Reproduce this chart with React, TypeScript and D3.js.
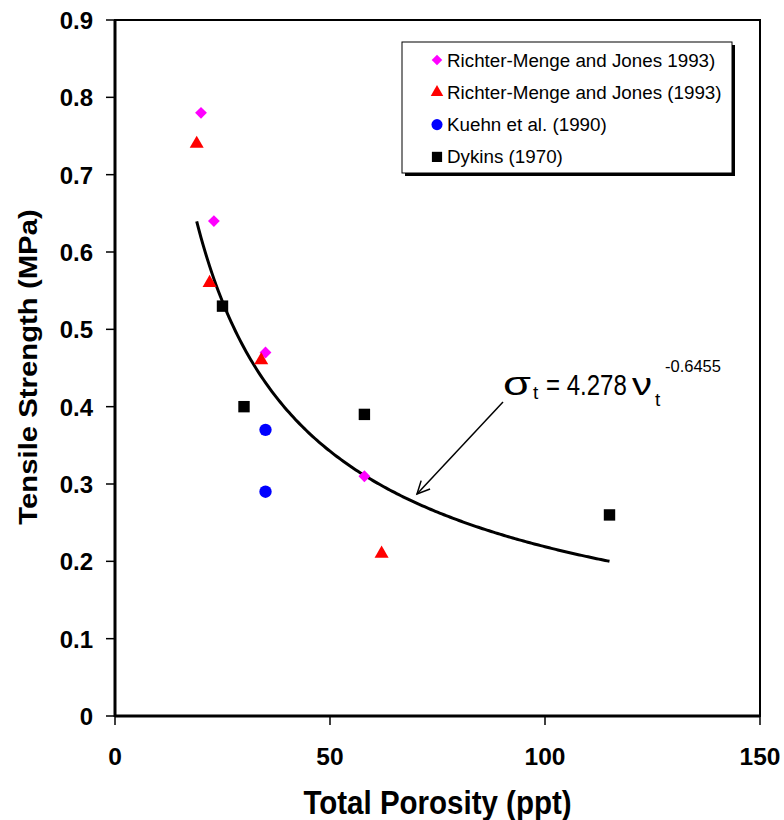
import * as d3 from "d3";

// data
const richterA = [
  { x: 20, y: 0.78 },
  { x: 23, y: 0.64 },
  { x: 35, y: 0.47 },
  { x: 58, y: 0.31 },
];
const richterB = [
  { x: 19, y: 0.74 },
  { x: 22, y: 0.56 },
  { x: 34, y: 0.46 },
  { x: 62, y: 0.21 },
];
const kuehn = [
  { x: 35, y: 0.37 },
  { x: 35, y: 0.29 },
];
const dykins = [
  { x: 25, y: 0.53 },
  { x: 30, y: 0.4 },
  { x: 58, y: 0.39 },
  { x: 115, y: 0.26 },
];
const xTicks = [0, 50, 100, 150];
const yTicks = [0, 0.1, 0.2, 0.3, 0.4, 0.5, 0.6, 0.7, 0.8, 0.9];
const fitA = 4.278;
const fitB = -0.6455;
const fitRange = [19, 115];

const series = [
  { name: "Richter-Menge and Jones 1993)", data: richterA, color: "#ff00ff", shape: d3.symbolSquare, size: 70, rot: 45 },
  { name: "Richter-Menge and Jones (1993)", data: richterB, color: "#ff0000", shape: d3.symbolTriangle, size: 85, rot: 0 },
  { name: "Kuehn et al. (1990)", data: kuehn, color: "#0000ff", shape: d3.symbolCircle, size: 120, rot: 0 },
  { name: "Dykins (1970)", data: dykins, color: "#000000", shape: d3.symbolSquare, size: 130, rot: 0 },
];

const font = "'Liberation Sans', Arial, Helvetica, sans-serif";

export default function App() {
  const left = 115;
  const right = 760;
  const top = 20;
  const bottom = 716;

  const x = d3.scaleLinear().domain([0, 150]).range([left, right]);
  const y = d3.scaleLinear().domain([0, 0.9]).range([bottom, top]);

  const fitPts = d3.range(fitRange[0], fitRange[1] + 0.01, 0.5).map((v) => [v, fitA * Math.pow(v, fitB)]);
  const fitLine = d3
    .line<number[]>()
    .x((d) => x(d[0]))
    .y((d) => y(d[1]))(fitPts);

  // arrow from the equation to the curve
  const ax1 = 503, ay1 = 402, ax2 = 417, ay2 = 494;
  const ang = Math.atan2(ay2 - ay1, ax2 - ax1);
  const head = 14;
  const h1 = [ax2 - head * Math.cos(ang - 0.45), ay2 - head * Math.sin(ang - 0.45)];
  const h2 = [ax2 - head * Math.cos(ang + 0.45), ay2 - head * Math.sin(ang + 0.45)];

  return (
    <svg width={784} height={820} style={{ position: "absolute", left: 0, top: 0, background: "#fff" }} fontFamily={font}>
      {/* frame */}
      <rect x={left} y={top} width={right - left} height={bottom - top} fill="none" stroke="#000" strokeWidth={2} />
      <line x1={left} x2={left} y1={top} y2={bottom + 1} stroke="#000" strokeWidth={3} />
      <line x1={left} x2={right} y1={bottom} y2={bottom} stroke="#000" strokeWidth={3} />

      {/* y ticks */}
      {yTicks.map((t) => (
        <g key={"y" + t}>
          <line x1={left - 9} x2={left} y1={y(t)} y2={y(t)} stroke="#000" strokeWidth={1.5} />
          <text x={93} y={y(t) + 9} textAnchor="end" fontSize={24} fontWeight="bold">
            {t === 0 ? "0" : d3.format(".1f")(t)}
          </text>
        </g>
      ))}

      {/* x ticks */}
      {xTicks.map((t) => (
        <g key={"x" + t}>
          <line x1={x(t)} x2={x(t)} y1={bottom} y2={bottom + 9} stroke="#000" strokeWidth={1.5} />
          <text x={x(t)} y={765} textAnchor="middle" fontSize={24.5} fontWeight="bold">
            {t}
          </text>
        </g>
      ))}

      {/* axis titles */}
      <text transform={`translate(${(left + right) / 2},814) scale(1,1.13)`} textAnchor="middle" fontSize={29.5} fontWeight="bold">
        Total Porosity (ppt)
      </text>
      <text
        transform={`translate(37,${(top + bottom) / 2 - 1}) scale(1,1.15) rotate(-90)`}
        textAnchor="middle"
        fontSize={25.5}
        fontWeight="bold"
      >
        Tensile Strength (MPa)
      </text>

      {/* fitted curve */}
      <path d={fitLine ?? ""} fill="none" stroke="#000" strokeWidth={3} />

      {/* points */}
      {series.map((s) =>
        s.data.map((d, i) => (
          <path
            key={s.name + i}
            d={d3.symbol().type(s.shape).size(s.size)() ?? ""}
            transform={`translate(${x(d.x)},${y(d.y)}) rotate(${s.rot})`}
            fill={s.color}
          />
        ))
      )}

      {/* arrow */}
      <line x1={ax1} y1={ay1} x2={ax2} y2={ay2} stroke="#000" strokeWidth={1.5} />
      <polyline points={`${h1[0]},${h1[1]} ${ax2},${ay2} ${h2[0]},${h2[1]}`} fill="none" stroke="#000" strokeWidth={1.5} />

      {/* equation */}
      <text x={503} y={395} fontSize={34} textLength={28} lengthAdjust="spacingAndGlyphs">σ</text>
      <text x={533} y={399} fontSize={19}>t</text>
      <text transform="translate(546,395) scale(1,1.22)" fontSize={24}>= 4.278</text>
      <text x={632} y={395} fontSize={31} textLength={20} lengthAdjust="spacingAndGlyphs">ν</text>
      <text x={655} y={406} fontSize={19}>t</text>
      <text x={665} y={372} fontSize={16.5}>-0.6455</text>

      {/* legend */}
      <rect x={405} y={45} width={330} height={131} fill="#000" />
      <rect x={402} y={42} width={330} height={131} fill="#fff" stroke="#000" strokeWidth={1} />
      {series.map((s, i) => {
        const ly = 60 + i * 32.3;
        return (
          <g key={"lg" + s.name}>
            <path
              d={d3.symbol().type(s.shape).size(s.size * 0.8)() ?? ""}
              transform={`translate(437,${ly}) rotate(${s.rot})`}
              fill={s.color}
            />
            <text x={447} y={ly + 6.5} fontSize={18.8}>
              {s.name}
            </text>
          </g>
        );
      })}
    </svg>
  );
}
